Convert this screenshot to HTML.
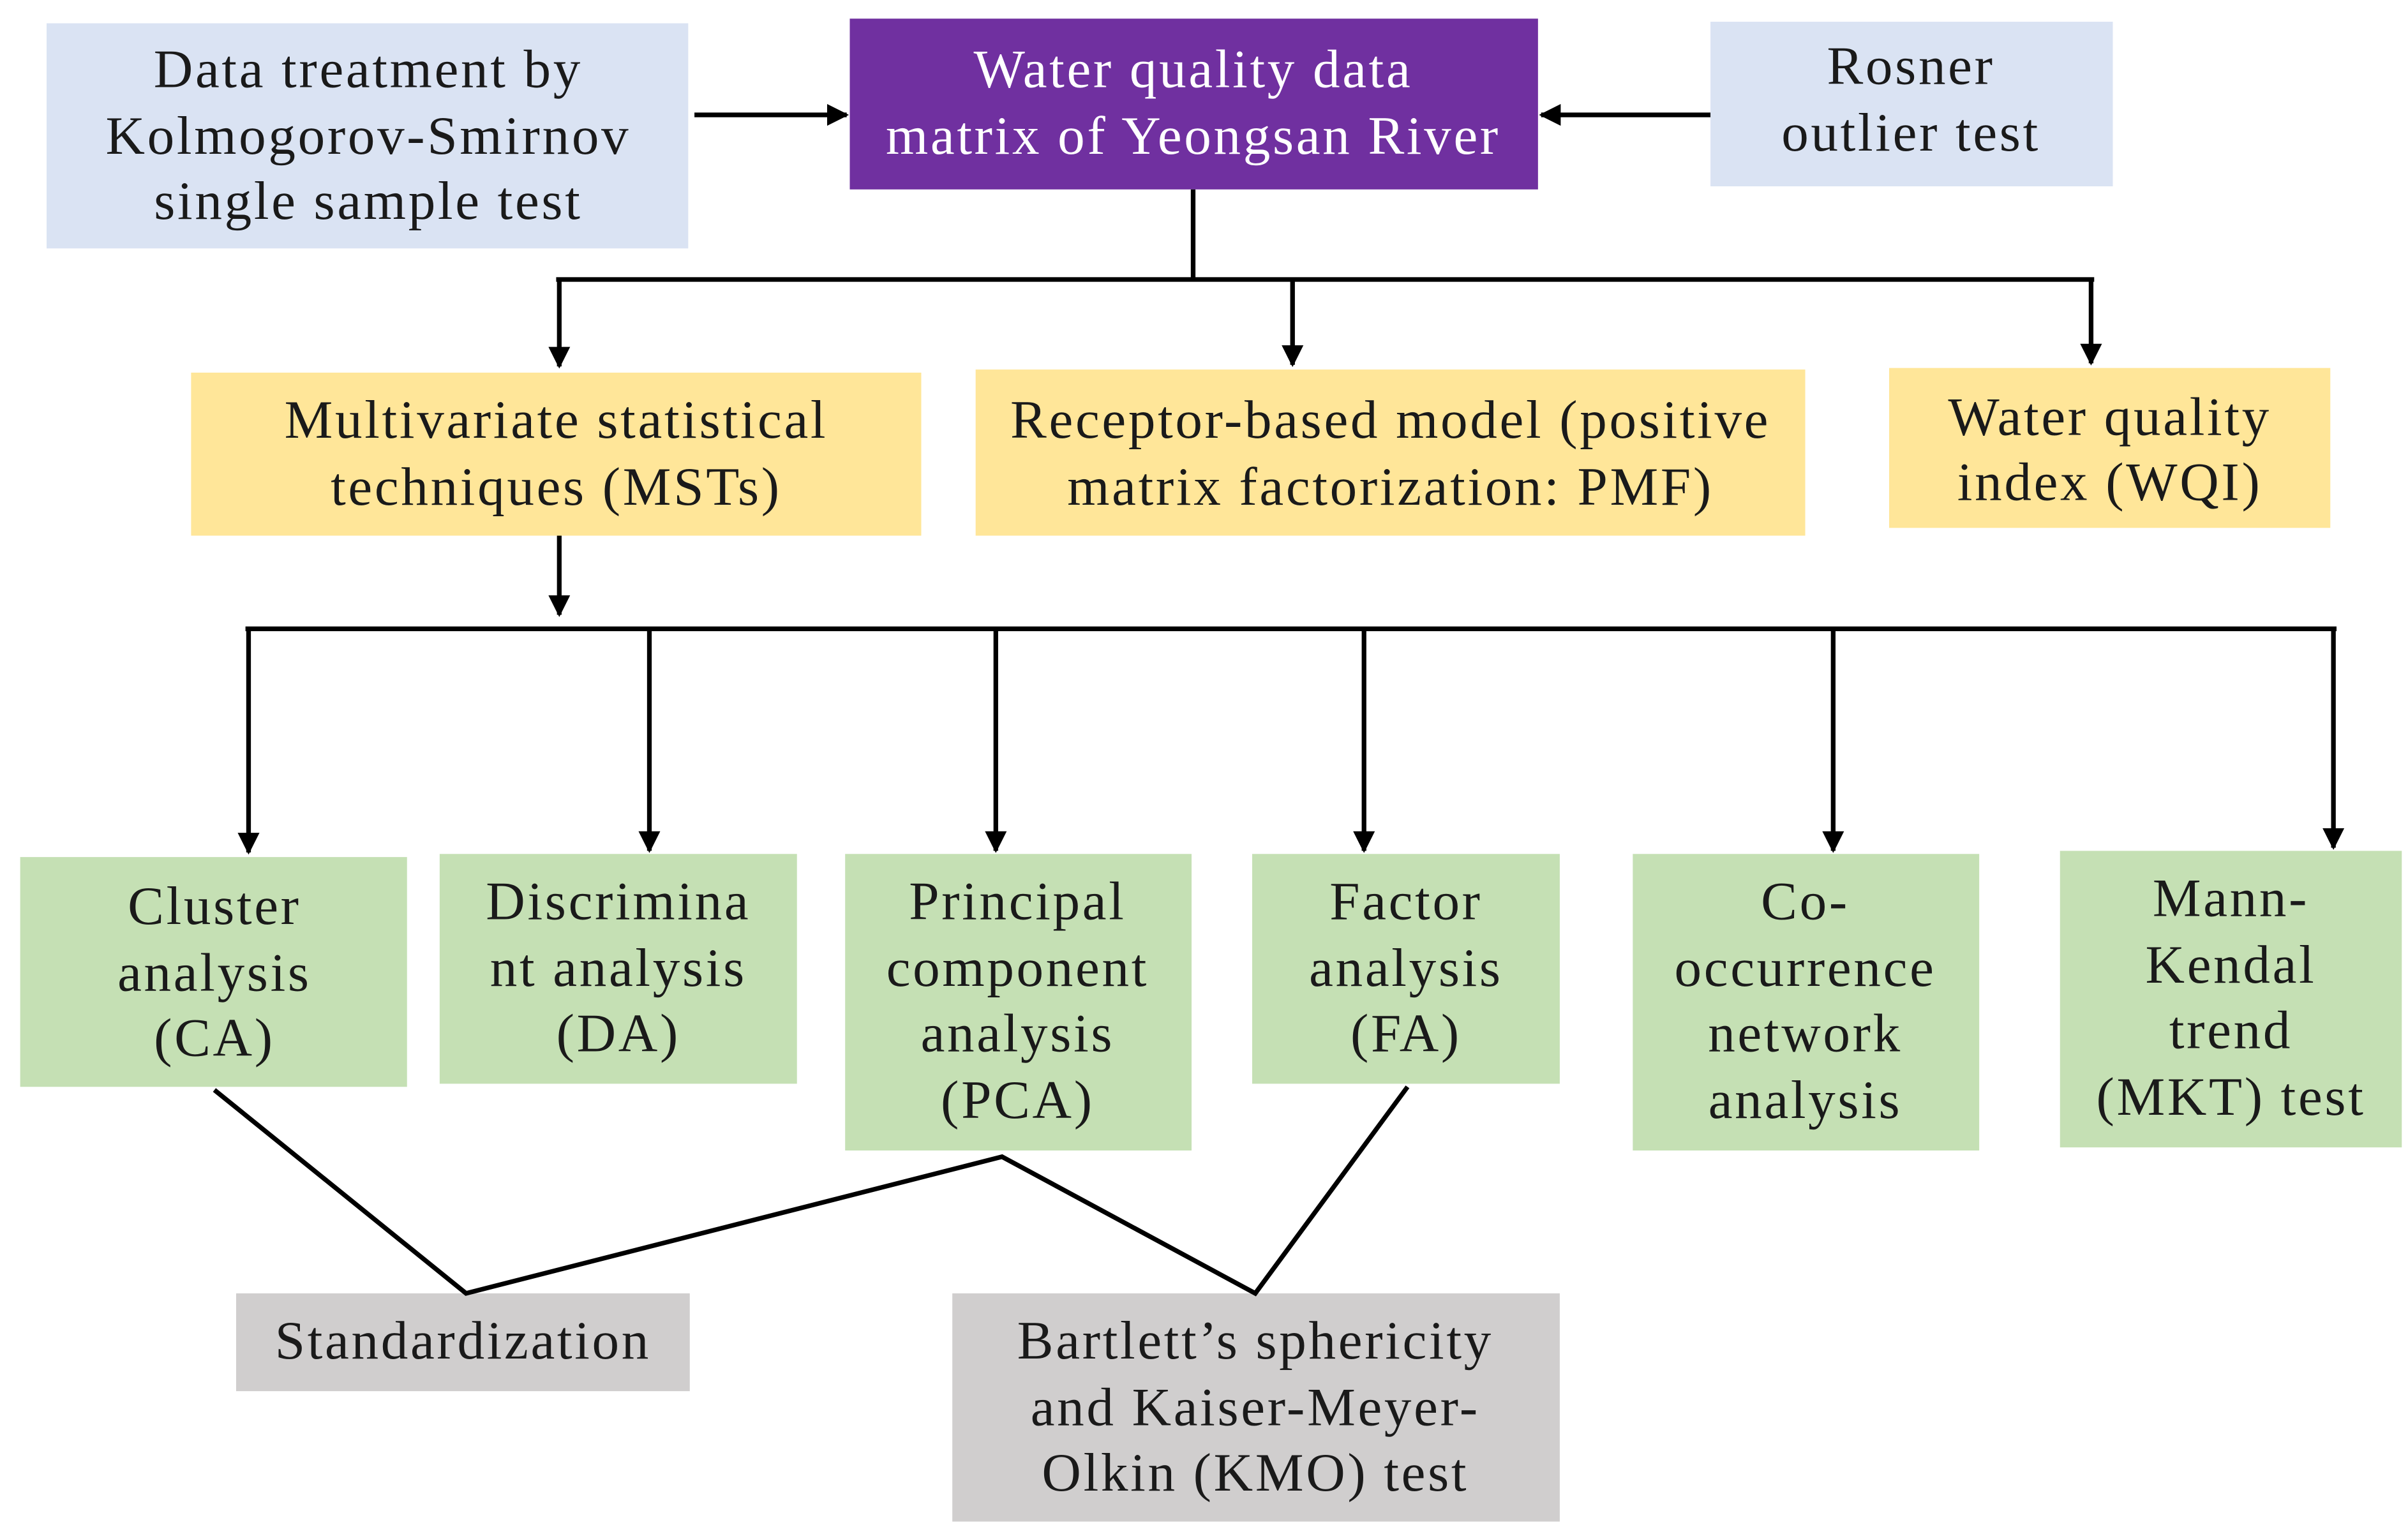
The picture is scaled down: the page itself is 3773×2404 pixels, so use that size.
<!DOCTYPE html>
<html><head><meta charset="utf-8"><style>
html,body{margin:0;padding:0;background:#fff;}
svg{display:block;}
text{font-family:"Liberation Serif",serif;font-size:35px;letter-spacing:1.5px;text-anchor:middle;fill:#1a1a1a;}
</style></head><body>
<svg width="3773" height="2404" viewBox="0 0 1550 988" preserveAspectRatio="none" xmlns="http://www.w3.org/2000/svg">
<defs>
<marker id="b" viewBox="0 0 10 10" refX="9" refY="5" markerWidth="14" markerHeight="14" orient="auto" markerUnits="userSpaceOnUse"><path d="M0,0 L10,5 L0,10 z" fill="#000"/></marker></defs>
<rect x="30" y="15" width="413" height="145" fill="#dae3f3"/>
<rect x="547" y="12" width="443" height="110" fill="#7030a0"/>
<rect x="1101" y="14" width="259" height="106" fill="#dae3f3"/>
<rect x="123" y="240" width="470" height="105" fill="#ffe699"/>
<rect x="628" y="238" width="534" height="107" fill="#ffe699"/>
<rect x="1216" y="237" width="284" height="103" fill="#ffe699"/>
<rect x="13" y="552" width="249" height="148" fill="#c5e0b4"/>
<rect x="283" y="550" width="230" height="148" fill="#c5e0b4"/>
<rect x="544" y="550" width="223" height="191" fill="#c5e0b4"/>
<rect x="806" y="550" width="198" height="148" fill="#c5e0b4"/>
<rect x="1051" y="550" width="223" height="191" fill="#c5e0b4"/>
<rect x="1326" y="548" width="220" height="191" fill="#c5e0b4"/>
<rect x="152" y="833" width="292" height="63" fill="#d0cece"/>
<rect x="613" y="833" width="391" height="147" fill="#d0cece"/>
<g stroke="#000" stroke-width="3" fill="none">
<line x1="447" y1="74" x2="545" y2="74" marker-end="url(#b)"/>
<line x1="1101" y1="74" x2="992" y2="74" marker-end="url(#b)"/>
<polyline points="768,122 768,180"/>
<line x1="358" y1="180" x2="1348" y2="180"/>
<line x1="360" y1="180" x2="360" y2="236" marker-end="url(#b)"/>
<line x1="832" y1="180" x2="832" y2="235" marker-end="url(#b)"/>
<line x1="1346" y1="180" x2="1346" y2="234" marker-end="url(#b)"/>
<line x1="360" y1="345" x2="360" y2="396" marker-end="url(#b)"/>
<line x1="158" y1="405" x2="1504" y2="405"/>
<line x1="160" y1="405" x2="160" y2="549" marker-end="url(#b)"/>
<line x1="418" y1="405" x2="418" y2="548" marker-end="url(#b)"/>
<line x1="641" y1="405" x2="641" y2="548" marker-end="url(#b)"/>
<line x1="878" y1="405" x2="878" y2="548" marker-end="url(#b)"/>
<line x1="1180" y1="405" x2="1180" y2="548" marker-end="url(#b)"/>
<line x1="1502" y1="405" x2="1502" y2="546" marker-end="url(#b)"/>
<polyline points="138,702 300,833 645,745 808,833 906,700"/>
</g>
<text x="237" y="56">Data treatment by</text>
<text x="237" y="99">Kolmogorov-Smirnov</text>
<text x="237" y="141">single sample test</text>
<text x="768" y="56" style="fill:#fff">Water quality data</text>
<text x="768" y="99" style="fill:#fff">matrix of Yeongsan River</text>
<text x="1230" y="54">Rosner</text>
<text x="1230" y="97">outlier test</text>
<text x="358" y="282">Multivariate statistical</text>
<text x="358" y="325">techniques (MSTs)</text>
<text x="895" y="282">Receptor-based model (positive</text>
<text x="895" y="325">matrix factorization: PMF)</text>
<text x="1358" y="280">Water quality</text>
<text x="1358" y="322">index (WQI)</text>
<text x="138" y="595">Cluster</text>
<text x="138" y="638">analysis</text>
<text x="138" y="680">(CA)</text>
<text x="398" y="592">Discrimina</text>
<text x="398" y="635">nt analysis</text>
<text x="398" y="677">(DA)</text>
<text x="655" y="592">Principal</text>
<text x="655" y="635">component</text>
<text x="655" y="677">analysis</text>
<text x="655" y="720">(PCA)</text>
<text x="905" y="592">Factor</text>
<text x="905" y="635">analysis</text>
<text x="905" y="677">(FA)</text>
<text x="1162" y="592">Co-</text>
<text x="1162" y="635">occurrence</text>
<text x="1162" y="677">network</text>
<text x="1162" y="720">analysis</text>
<text x="1436" y="590">Mann-</text>
<text x="1436" y="633">Kendal</text>
<text x="1436" y="675">trend</text>
<text x="1436" y="718">(MKT) test</text>
<text x="298" y="875">Standardization</text>
<text x="808" y="875">Bartlett’s sphericity</text>
<text x="808" y="918">and Kaiser-Meyer-</text>
<text x="808" y="960">Olkin (KMO) test</text>
</svg>
</body></html>
